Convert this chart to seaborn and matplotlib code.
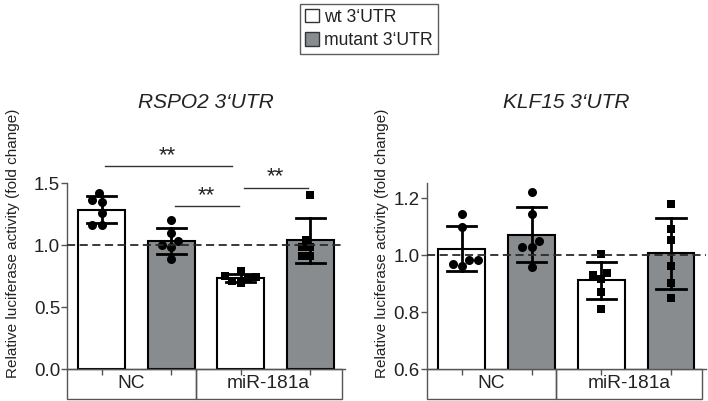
import numpy as np
import pandas as pd
import matplotlib
matplotlib.use("Agg")
import matplotlib.pyplot as plt
import matplotlib.transforms as mtransforms
from matplotlib.patches import Patch, Rectangle
import seaborn as sns

# conditions, in plotting order
conditions = ["NC wt", "NC mut", "miR wt", "miR mut"]
constructs = ["wt 3‘UTR", "mutant 3‘UTR", "wt 3‘UTR", "mutant 3‘UTR"]
groups = ["NC", "miR-181a"]

# RSPO2 3'UTR, replicate values
rspo2_nc_wt = [1.42, 1.36, 1.35, 1.26, 1.16, 1.16]
rspo2_nc_mut = [1.20, 1.10, 1.03, 1.00, 0.98, 0.89]
rspo2_mir_wt = [0.79, 0.75, 0.74, 0.73, 0.71, 0.69]
rspo2_mir_mut = [1.40, 1.04, 0.98, 0.98, 0.91, 0.91]

# KLF15 3'UTR
klf15_nc_wt = [1.144, 1.10, 0.981, 0.984, 0.96, 0.968]
klf15_nc_mut = [1.223, 1.144, 1.030, 1.028, 1.048, 0.957]
klf15_mir_wt = [1.005, 0.937, 0.916, 0.929, 0.869, 0.811]
klf15_mir_mut = [1.179, 1.092, 1.054, 0.963, 0.902, 0.849]

# significance brackets for RSPO2: (from bar, to bar, height)
rspo2_sig = [(0, 2, 1.634), (1, 2, 1.317), (2, 3, 1.463)]
sig_label = "**"

WHITE = "#ffffff"
GREY = "#878c90"
TEXT = "#222222"
palette = {"wt 3‘UTR": WHITE, "mutant 3‘UTR": GREY}


def make_df(series):
    rows = []
    for cond, cons, vals in zip(conditions, constructs, series):
        for v in vals:
            rows.append({"cond": cond, "construct": cons, "value": v})
    return pd.DataFrame(rows)


def draw_panel(ax, df, title, ylim, yticks, label_x):
    sns.barplot(data=df, x="cond", y="value", hue="construct", order=conditions,
                hue_order=["wt 3‘UTR", "mutant 3‘UTR"], palette=palette, dodge=False,
                width=0.67, errorbar="sd", capsize=0.42, edgecolor="black", linewidth=1.5,
                err_kws={"color": "black", "linewidth": 2}, legend=False, ax=ax, zorder=2)
    nc = df[df["cond"].str.startswith("NC")]
    mir = df[df["cond"].str.startswith("miR")]
    sns.swarmplot(data=nc, x="cond", y="value", order=conditions, color="black",
                  marker="o", size=6.5, ax=ax, zorder=4)
    sns.swarmplot(data=mir, x="cond", y="value", order=conditions, color="black",
                  marker="s", size=6, ax=ax, zorder=4)
    ax.axhline(1.0, color="#2a2a2a", linestyle=(0, (4.5, 2.5)), linewidth=1.3, zorder=5)

    ax.set_xlim(-0.5, 3.5)
    ax.set_ylim(*ylim)
    ax.set_yticks(yticks)
    ax.set_yticklabels([f"{t:.1f}" for t in yticks], fontsize=13.5, color=TEXT)
    ax.set_xticks(range(4))
    ax.set_xticklabels([])
    ax.set_xlabel("")
    ax.set_ylabel("Relative luciferase activity (fold change)", fontsize=11, color=TEXT)
    ax.yaxis.set_label_coords(label_x, 0.677)
    ax.tick_params(axis="both", length=4, width=1, color="#555555", pad=1)
    for side in ["top", "right"]:
        ax.spines[side].set_visible(False)
    for side in ["left", "bottom"]:
        ax.spines[side].set_color("#555555")
        ax.spines[side].set_linewidth(1)
    ax.text(0.5, 1.435, title, transform=ax.transAxes, ha="center", va="center",
            fontsize=15, style="italic", color=TEXT)

    # category box under the axis
    trans = mtransforms.blended_transform_factory(ax.transData, ax.transAxes)
    box_h = 0.16
    for x0, x1, lab in [(-0.5, 1.35, groups[0]), (1.35, 3.45, groups[1])]:
        ax.add_patch(Rectangle((x0, -box_h), x1 - x0, box_h, transform=trans,
                               fill=False, edgecolor="#555555", linewidth=1, clip_on=False))
        ax.text((x0 + x1) / 2, -box_h / 2, lab, transform=trans, ha="center",
                va="center", fontsize=13.8, color=TEXT)


plt.rcParams["font.family"] = ["Liberation Sans", "DejaVu Sans"]
fig = plt.figure(figsize=(7.08, 4.01), dpi=100)
ax1 = fig.add_axes([0.0946, 0.0798, 0.3927, 0.4638])
ax2 = fig.add_axes([0.603, 0.0798, 0.394, 0.4638])

df1 = make_df([rspo2_nc_wt, rspo2_nc_mut, rspo2_mir_wt, rspo2_mir_mut])
df2 = make_df([klf15_nc_wt, klf15_nc_mut, klf15_mir_wt, klf15_mir_mut])

draw_panel(ax1, df1, "RSPO2 3‘UTR", (0, 1.5), [0.0, 0.5, 1.0, 1.5], -0.17)
draw_panel(ax2, df2, "KLF15 3‘UTR", (0.6, 1.253), [0.6, 0.8, 1.0, 1.2], -0.135)

for a, b, h in rspo2_sig:
    ax1.plot([a + 0.05, b - 0.03 - (0.1 if b - a > 1 else 0)], [h, h], color="#333333",
             linewidth=1, clip_on=False)
    ax1.text((a + b) / 2 - (0.05 if b - a > 1 else 0), h + 0.0, sig_label,
             ha="center", va="bottom", fontsize=16, color=TEXT, clip_on=False)

handles = [Patch(facecolor=WHITE, edgecolor="#333333", linewidth=1, label="wt 3‘UTR"),
           Patch(facecolor=GREY, edgecolor="#333333", linewidth=1, label="mutant 3‘UTR")]
leg = fig.legend(handles=handles, loc="upper center", bbox_to_anchor=(0.521, 1.0),
                 frameon=True, fancybox=False, edgecolor="#333333", fontsize=12.7,
                 handlelength=0.8, handleheight=0.8, handletextpad=0.3, borderpad=0.3,
                 labelspacing=0.35, borderaxespad=0.2)
for t in leg.get_texts():
    t.set_color(TEXT)

fig.savefig("out.png", dpi=100)
